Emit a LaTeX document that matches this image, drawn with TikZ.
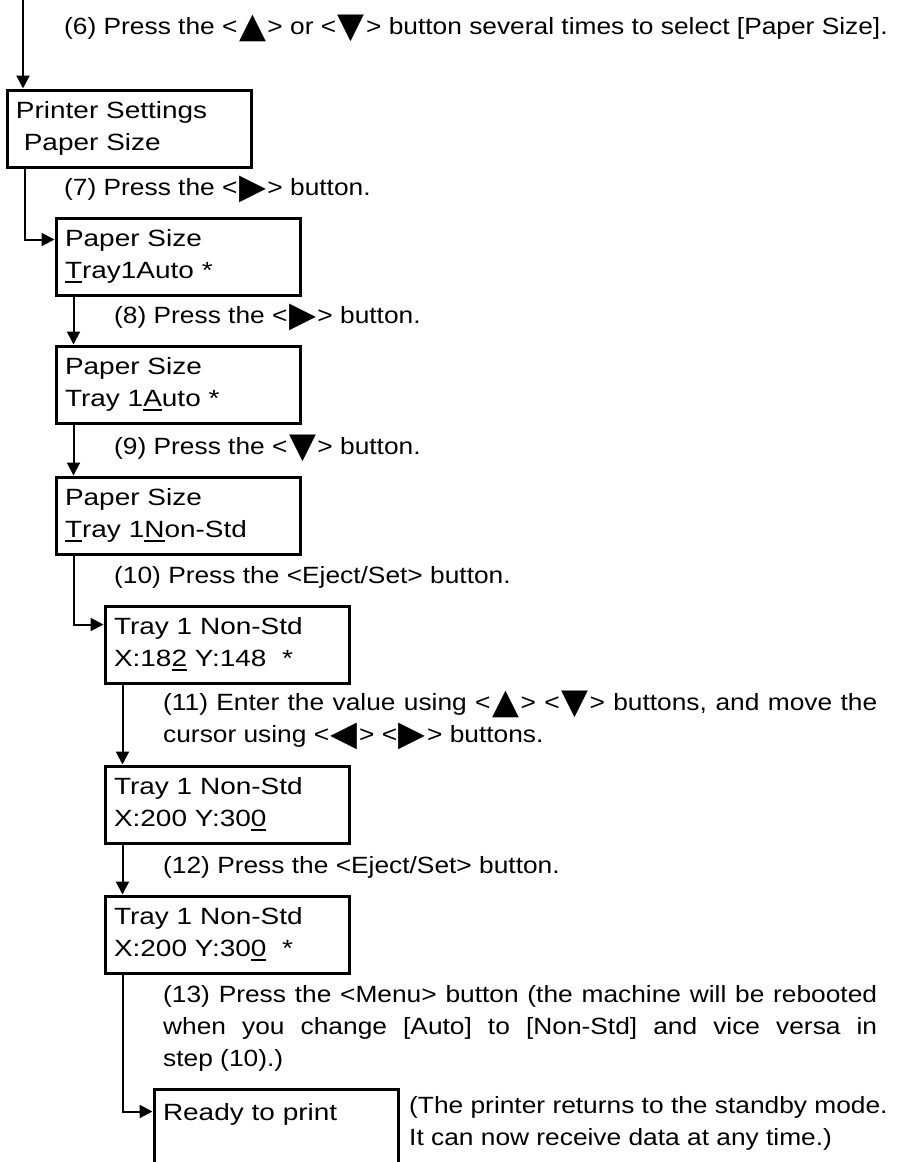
\documentclass[tikz,border=0pt]{standalone}
\usepackage{fontspec}
\setmainfont{Liberation Sans}[FakeStretch=1.12]
\newfontfamily\lcdfont{Liberation Sans}[FakeStretch=1.19]
\newfontfamily\trifont{DejaVu Sans}
\usetikzlibrary{arrows.meta}
\newcommand\tri[1]{\kern1.5pt\raisebox{-3.5pt}[0pt][0pt]{\trifont\fontsize{35}{32}\selectfont #1}\kern1.5pt}
\newcommand\btnup{\tri{▲}}
\newcommand\btndown{\tri{▼}}
\newcommand\btnright{\tri{▶}}
\newcommand\btnleft{\tri{◀}}
% cursor mark under one character of the panel
\newcommand\crsr[1]{\leavevmode\setbox0\hbox{#1}\rlap{\rule[-4.5pt]{\wd0}{1.8pt}}\box0\relax}
\tikzset{
  lcd/.style   = {draw, line width=3pt, anchor=north west, minimum width=244pt,
                  minimum height=77pt, text width=226pt, inner xsep=9pt,
                  inner ysep=0pt, align=left, execute at begin node=\lcdfont},
  note/.style  = {anchor=base west, inner sep=0pt},
  para/.style  = {note, text width=714pt, align=justify,
                  execute at begin node={\hyphenpenalty=10000\exhyphenpenalty=10000\tolerance=10000}},
  link/.style  = {line width=2pt, -{Triangle[length=13pt, width=13pt]}},
}
\begin{document}
\begin{tikzpicture}[x=1pt, y=-1pt, font=\fontsize{23.5pt}{32pt}\selectfont]
  \useasboundingbox (0,0) rectangle (908,1162);

  \node[lcd] (b1) at (5.5, 88.5)   {Printer Settings\\\mbox{\ }Paper Size};
  \node[lcd] (b2) at (54.5, 216.5) {Paper Size\\\crsr{T}ray1Auto *};
  \node[lcd] (b3) at (54.5, 344.5) {Paper Size\\Tray 1\crsr{A}uto *};
  \node[lcd] (b4) at (54.5, 475.5) {Paper Size\\\crsr{T}ray 1\crsr{N}on-Std};
  \node[lcd] (b5) at (103.5, 604.5) {Tray 1 Non-Std\\X:18\crsr{2} Y:148\ \ *};
  \node[lcd] (b6) at (103.5, 764.5) {Tray 1 Non-Std\\X:200 Y:30\crsr{0}};
  \node[lcd] (b7) at (103.5, 894.5) {Tray 1 Non-Std\\X:200 Y:30\crsr{0}\ \ *};
  \node[lcd] (b8) at (152.5, 1087.5) {Ready to print\\\mbox{}};

  \node[note] (t6) at (64, 34)
    {(6) Press the <\btnup> or <\btndown> button several times to select [Paper Size].};
  \node[note] (t7) at (64, 195) {(7) Press the <\btnright> button.};
  \node[note] (t8) at (114, 323) {(8) Press the <\btnright> button.};
  \node[note] (t9) at (114, 454) {(9) Press the <\btndown> button.};
  \node[note] (t10) at (114, 583) {(10) Press the <Eject/Set> button.};
  \node[para] (t11) at (163, 710)
    {\hangindent=53pt\hangafter=1 (11) Enter the value using <\btnup> <\btndown> buttons, and move the\linebreak
     cursor using <\btnleft> <\btnright> buttons.};
  \node[note] (t12) at (163, 873) {(12) Press the <Eject/Set> button.};
  \node[para] (t13) at (163, 1002)
    {\hangindent=53pt\hangafter=1 (13) Press the <Menu> button (the machine will be rebooted\linebreak
     when you change [Auto] to [Non-Std] and vice versa in\linebreak step (10).)};
  \node[note, align=left] (t14) at (409, 1145)
    {(The printer returns to the standby mode.\\It can now receive data at any time.)};

  \coordinate (top) at (23, 0);
  \draw[link] (top) -- (top |- b1.north);
  \draw[link] ([xshift=19pt]b1.south west) |- ([yshift=-23pt]b2.north west);
  \draw[link] ([xshift=19pt]b2.south west) -- ([xshift=19pt]b3.north west);
  \draw[link] ([xshift=19pt]b3.south west) -- ([xshift=19pt]b4.north west);
  \draw[link] ([xshift=19pt]b4.south west) |- ([yshift=-20pt]b5.north west);
  \draw[link] ([xshift=19pt]b5.south west) -- ([xshift=19pt]b6.north west);
  \draw[link] ([xshift=19pt]b6.south west) -- ([xshift=19pt]b7.north west);
  \draw[link] ([xshift=19pt]b7.south west) |- ([yshift=-24pt]b8.north west);
\end{tikzpicture}
\end{document}
